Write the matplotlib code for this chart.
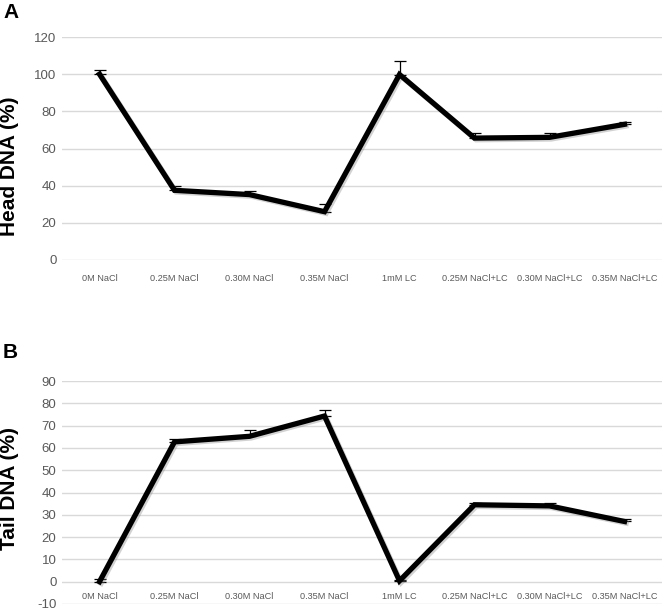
import matplotlib
matplotlib.use("Agg")
from matplotlib import pyplot as plt
from matplotlib import patheffects as pe
import numpy as np

plt.rcParams['font.family'] = ['Liberation Sans', 'DejaVu Sans']

categories = ['0M NaCl', '0.25M NaCl', '0.30M NaCl', '0.35M NaCl',
              '1mM LC', '0.25M NaCl+LC', '0.30M NaCl+LC', '0.35M NaCl+LC']

head_dna = [100, 37.5, 35.2, 26.0, 99.8, 65.6, 66.0, 73.0]
head_err = [2.0, 2.5, 2.0, 4.0, 7.5, 2.5, 2.5, 1.0]

tail_dna = [0.0, 62.7, 65.2, 74.3, 0.4, 34.5, 34.0, 27.0]
tail_err = [1.0, 1.5, 3.0, 2.8, 0.5, 1.0, 1.5, 1.0]

grid_col = '#d9d9d9'
tick_col = '#595959'


def draw_panel(ax, vals, errs, ylim, yticks, ylabel, label_y):
    x = np.arange(len(categories))
    for yt in yticks:
        ax.axhline(yt, color=grid_col, lw=1.0, zorder=0)
    ax.errorbar(x, vals, yerr=[np.zeros(len(errs)), errs], fmt='none',
                ecolor='black', elinewidth=0.9, capsize=4, capthick=0.9, zorder=2)
    ax.plot(x, vals, color='black', lw=3.8, solid_joinstyle='miter', zorder=3,
            path_effects=[pe.SimpleLineShadow(offset=(1.2, -1.2), alpha=0.35, shadow_color='gray'),
                          pe.Normal()])
    ax.set_xlim(-0.5, len(categories) - 0.5)
    ax.set_ylim(*ylim)
    ax.set_yticks(yticks)
    ax.set_yticklabels([str(t) for t in yticks], color=tick_col, fontsize=9.5)
    ax.tick_params(axis='y', length=0, pad=4)
    ax.set_xticks([])
    for s in ax.spines.values():
        s.set_visible(False)
    for i, c in enumerate(categories):
        ax.text(i, label_y, c, ha='center', va='center', fontsize=6.6,
                color=tick_col, clip_on=False)
    ax.set_ylabel(ylabel, fontsize=15, fontweight='bold')


fig = plt.figure(figsize=(6.64, 6.11), dpi=100)

ax1 = fig.add_axes([62 / 664, 1 - 260 / 611, 600 / 664, 223 / 611])
draw_panel(ax1, head_dna, head_err, (0, 120), list(range(0, 121, 20)), 'Head DNA (%)', -9.7)
ax1.yaxis.set_label_coords(-0.072, 0.42)

ax2 = fig.add_axes([62 / 664, 1 - 604 / 611, 600 / 664, 223 / 611])
draw_panel(ax2, tail_dna, tail_err, (-10, 90), list(range(-10, 91, 10)), 'Tail DNA (%)', -6.5)
ax2.yaxis.set_label_coords(-0.072, 0.52)

fig.text(3 / 664, 1 - 12 / 611, 'A', fontsize=15, fontweight='bold', va='center', ha='left')
fig.text(3 / 664, 1 - 352 / 611, 'B', fontsize=15, fontweight='bold', va='center', ha='left')

fig.savefig('out.png', dpi=100)
